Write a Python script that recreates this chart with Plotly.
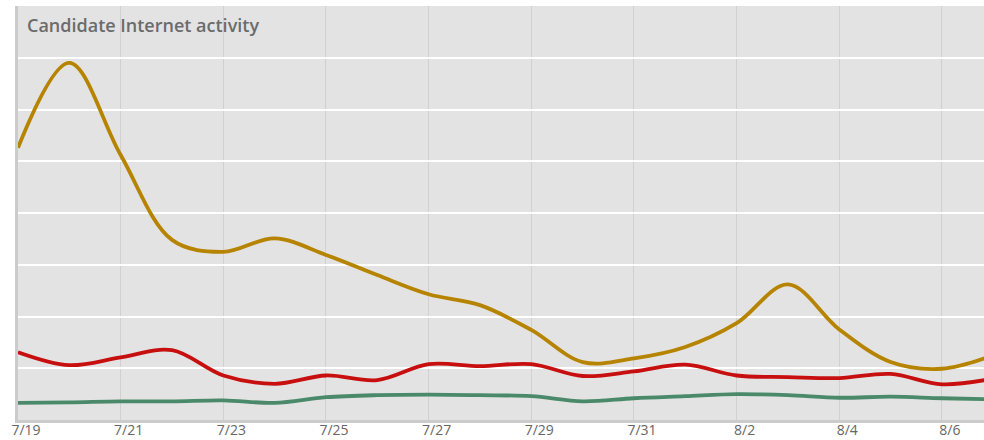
import plotly.graph_objects as go

# Daily dates, 7/19 through 8/7
dates = [
    "2016-07-19", "2016-07-20", "2016-07-21", "2016-07-22", "2016-07-23",
    "2016-07-24", "2016-07-25", "2016-07-26", "2016-07-27", "2016-07-28",
    "2016-07-29", "2016-07-30", "2016-07-31", "2016-08-01", "2016-08-02",
    "2016-08-03", "2016-08-04", "2016-08-05", "2016-08-06", "2016-08-07",
]

gold_series = [5.26, 6.90, 5.12, 3.48, 3.25, 3.51, 3.19, 2.80, 2.43, 2.22,
               1.74, 1.12, 1.19, 1.41, 1.87, 2.62, 1.75, 1.12, 0.99, 1.25]
red_series = [1.31, 1.06, 1.21, 1.35, 0.86, 0.70, 0.86, 0.77, 1.08, 1.04,
              1.08, 0.85, 0.94, 1.07, 0.86, 0.83, 0.81, 0.89, 0.69, 0.80]
green_series = [0.33, 0.34, 0.36, 0.36, 0.38, 0.33, 0.44, 0.48, 0.49, 0.48,
                0.46, 0.36, 0.42, 0.46, 0.50, 0.48, 0.43, 0.45, 0.42, 0.40]

tick_vals = ["2016-07-19", "2016-07-21", "2016-07-23", "2016-07-25", "2016-07-27",
             "2016-07-29", "2016-07-31", "2016-08-02", "2016-08-04", "2016-08-06"]
tick_text = ["7/19", "7/21", "7/23", "7/25", "7/27", "7/29", "7/31", "8/2", "8/4", "8/6"]

series = [
    (green_series, "#4a8a6a"),
    (red_series, "#c80f0f"),
    (gold_series, "#b78400"),
]

fig = go.Figure()
for values, color in series:
    fig.add_trace(go.Scatter(
        x=dates, y=values, mode="lines",
        line=dict(color=color, width=3.8, shape="spline", smoothing=1.0),
        hoverinfo="skip", showlegend=False,
    ))

fig.update_layout(
    width=984, height=440,
    margin=dict(l=18, r=0, t=6, b=20, autoexpand=False),
    paper_bgcolor="#ffffff",
    plot_bgcolor="#e3e3e3",
    font=dict(family="Open Sans", color="#666666"),
    xaxis=dict(
        range=["2016-07-19", "2016-08-06 19:40"],
        tickvals=tick_vals, ticktext=tick_text,
        showgrid=True, gridcolor="#d0d0d0", gridwidth=1,
        showline=True, linecolor="#cbcbcb", linewidth=3,
        ticks="", tickfont=dict(size=14, color="#666666"),
        ticklabelshift=8, ticklabelstandoff=-5,
        zeroline=False, automargin=False,
    ),
    yaxis=dict(
        range=[0, 8], dtick=1,
        showgrid=True, gridcolor="#ffffff", gridwidth=2,
        showline=True, linecolor="#cbcbcb", linewidth=3,
        showticklabels=False, ticks="", zeroline=False, automargin=False,
    ),
    annotations=[dict(
        text="Candidate Internet activity",
        xref="paper", yref="paper", x=0.007, y=0.954,
        xanchor="left", yanchor="middle", showarrow=False,
        font=dict(family="Open Sans", size=18, color="#6b6b6b", weight=600),
    )],
)

fig.write_html("out.html")
